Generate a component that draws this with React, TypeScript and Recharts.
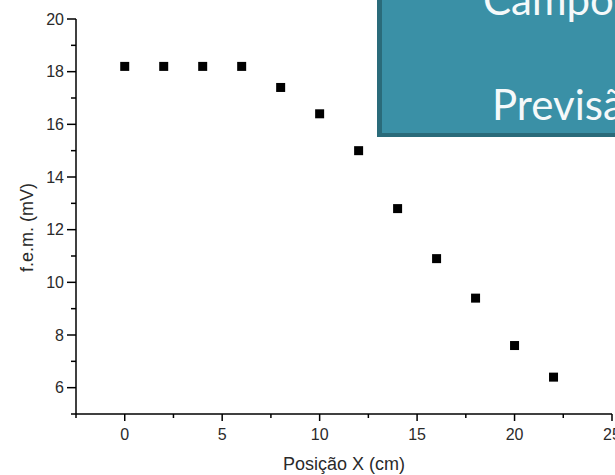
import React from 'react';
import { ScatterChart, Scatter, XAxis, YAxis, ZAxis } from 'recharts';

// posição (cm) e f.e.m. (mV)
const positions = [0, 2, 4, 6, 8, 10, 12, 14, 16, 18, 20, 22];
const femValues = [18.2, 18.2, 18.2, 18.2, 17.4, 16.4, 15.0, 12.8, 10.9, 9.4, 7.6, 6.4];

const xTicks = [-2.5, 0, 2.5, 5, 7.5, 10, 12.5, 15, 17.5, 20, 22.5, 25];
const xMajor = [0, 5, 10, 15, 20, 25];
const yTicks = [5, 6, 7, 8, 9, 10, 11, 12, 13, 14, 15, 16, 17, 18, 19, 20];
const yMajor = [6, 8, 10, 12, 14, 16, 18, 20];

const data = positions.map((x, i) => ({ x, y: femValues[i] }));

const tickFont = "'Liberation Sans Narrow', 'Liberation Sans', Arial, sans-serif";
const titleFont = "'Liberation Sans', Arial, sans-serif";

const XTick = ({ x, y, payload }: any) => {
  const major = xMajor.includes(payload.value);
  return (
    <g>
      <line x1={x} x2={x} y1={y} y2={y + (major ? 7 : 4)} stroke="#000" strokeWidth={1.5} />
      {major && (
        <text x={x} y={y + 26} textAnchor="middle" fontSize={16} fontFamily={tickFont} fill="#2a2a2a">
          {payload.value}
        </text>
      )}
    </g>
  );
};

const YTick = ({ x, y, payload }: any) => {
  const major = yMajor.includes(payload.value);
  return (
    <g>
      <line x1={x - (major ? 9 : 5)} x2={x} y1={y} y2={y} stroke="#000" strokeWidth={1.5} />
      {major && (
        <text x={x - 12} y={y + 5.5} textAnchor="end" fontSize={16} fontFamily={tickFont} fill="#2a2a2a">
          {payload.value}
        </text>
      )}
    </g>
  );
};

const Square = ({ cx, cy }: any) => <rect x={cx - 4.5} y={cy - 4.5} width={9} height={9} fill="#000" />;

const YLabel = ({ viewBox }: any) => {
  const cx = 33;
  const cy = viewBox.y + viewBox.height / 2 + 11;
  return (
    <text x={cx} y={cy} transform={`rotate(-90 ${cx} ${cy})`} textAnchor="middle" fontSize={18} fontFamily={titleFont} fill="#2a2a2a">
      f.e.m. (mV)
    </text>
  );
};

export default function App() {
  return (
    <div style={{ position: 'absolute', left: 0, top: 0, width: 615, height: 475, overflow: 'hidden', background: '#fff' }}>
      <ScatterChart width={615} height={475} margin={{ top: 19, right: 3, left: 0, bottom: 0 }}>
        <XAxis
          type="number"
          dataKey="x"
          domain={[-2.5, 25]}
          ticks={xTicks}
          interval={0}
          height={61}
          tickSize={0}
          tickMargin={0}
          tickLine={false}
          axisLine={{ stroke: '#000', strokeWidth: 1.5 }}
          tick={<XTick />}
          allowDataOverflow
          label={{ value: 'Posição X (cm)', position: 'insideBottom', offset: 5, fontSize: 18, fontFamily: titleFont, fill: '#2a2a2a' }}
        />
        <YAxis
          type="number"
          dataKey="y"
          domain={[5, 20]}
          ticks={yTicks}
          interval={0}
          width={76}
          tickSize={0}
          tickMargin={0}
          tickLine={false}
          axisLine={{ stroke: '#000', strokeWidth: 1.5 }}
          tick={<YTick />}
          allowDataOverflow
          label={<YLabel />}
        />
        <ZAxis range={[81, 81]} />
        <Scatter data={data} shape={<Square />} isAnimationActive={false} />
      </ScatterChart>
      <svg width={615} height={475} style={{ position: 'absolute', left: 0, top: 0, pointerEvents: 'none' }}>
        <rect x={377} y={-10} width={260} height={147} fill="#2A6B7A" />
        <rect x={382} y={-10} width={260} height={143} fill="#3A90A6" />
        <text x={483} y={15} fontSize={42} fontFamily="Lato, 'Open Sans', sans-serif" fill="#F5F9FA">
          Campo
        </text>
        <text x={492} y={120} fontSize={42} fontFamily="Lato, 'Open Sans', sans-serif" fill="#F5F9FA">
          Previsão
        </text>
      </svg>
    </div>
  );
}
